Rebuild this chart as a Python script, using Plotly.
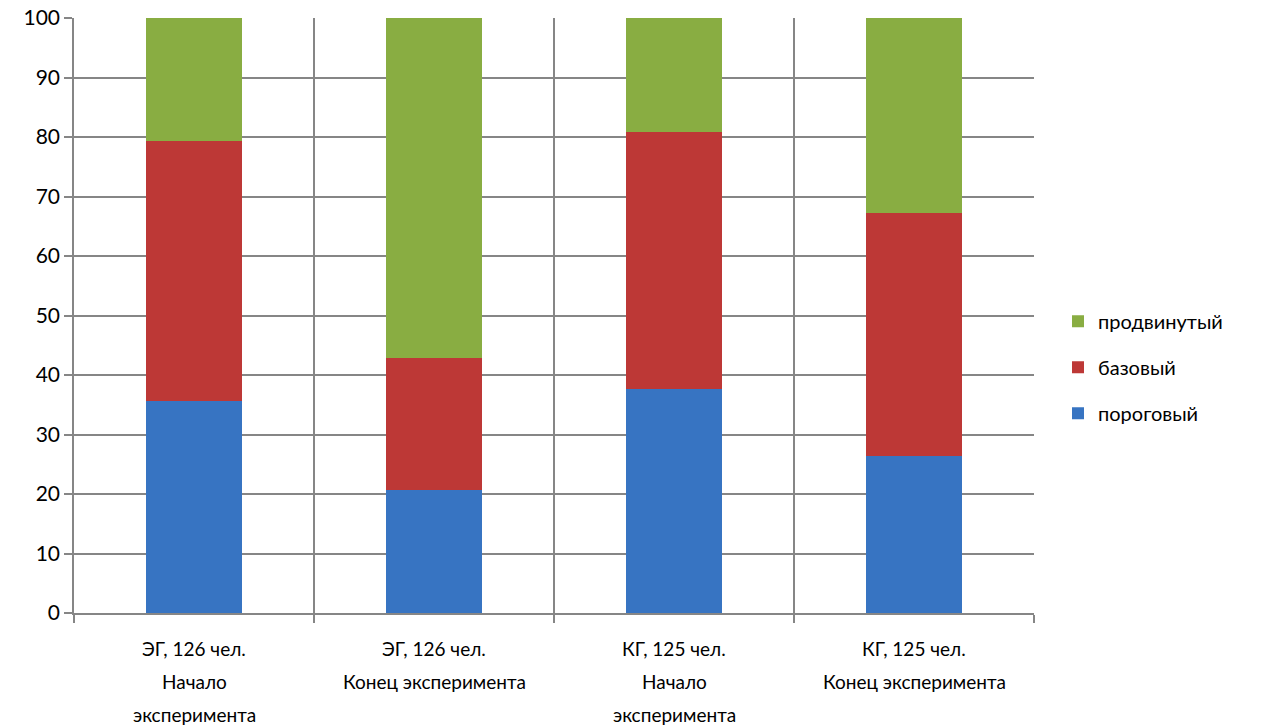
import plotly.graph_objects as go

categories = ["ЭГ, 126 чел. Начало эксперимента", "ЭГ, 126 чел. Конец эксперимента",
              "КГ, 125 чел. Начало эксперимента", "КГ, 125 чел. Конец эксперимента"]
label_lines = [
    ["ЭГ, 126 чел.", "Начало", "эксперимента"],
    ["ЭГ, 126 чел.", "Конец эксперимента"],
    ["КГ, 125 чел.", "Начало", "эксперимента"],
    ["КГ, 125 чел.", "Конец эксперимента"],
]
porogovy = [35.7, 20.6, 37.6, 26.4]
bazovy = [43.7, 22.2, 43.2, 40.8]
prodvinuty = [20.6, 57.2, 19.2, 32.8]
series_names = ["пороговый", "базовый", "продвинутый"]
colors = ["#3774c2", "#bd3836", "#89ad42"]
legend_ranks = [3, 2, 1]
y_ticks = list(range(0, 101, 10))

x = list(range(len(categories)))
fig = go.Figure()
for name, vals, col, rank in zip(series_names, [porogovy, bazovy, prodvinuty], colors, legend_ranks):
    fig.add_trace(go.Bar(x=x, y=vals, name=name, marker=dict(color=col, line=dict(width=0)),
                         legendgroup=name, legendrank=rank, hoverinfo="y+name"))

font = "Lato, 'Open Sans', sans-serif"
annotations = []
for xi, lines in zip(x, label_lines):
    for j, line in enumerate(lines):
        annotations.append(dict(x=xi, y=0, xref="x", yref="paper", text=line, showarrow=False,
                                yanchor="top", yshift=-22 - 33 * j,
                                font=dict(family=font, size=19, color="#000")))

fig.update_layout(
    width=1266, height=728,
    barmode="stack", bargap=0.6,
    plot_bgcolor="white", paper_bgcolor="white",
    margin=dict(l=74, r=232, t=18, b=115, autoexpand=False),
    font=dict(family=font, size=19, color="#000"),
    legend=dict(x=1.025, y=0.413, xanchor="left", yanchor="middle",
                traceorder="grouped", tracegroupgap=17,
                font=dict(family=font, size=20, color="#000")),
    annotations=annotations,
    xaxis=dict(range=[-0.5, 3.5], tickvals=x, ticktext=[""] * len(x), showgrid=False,
               ticks="", showline=True, linecolor="#868686", linewidth=1.5,
               minor=dict(tickmode="array", tickvals=[-0.5, 0.5, 1.5, 2.5, 3.5], showgrid=True,
                          gridcolor="#868686", gridwidth=1.5, ticks="outside", ticklen=8,
                          tickcolor="#868686", tickwidth=1.5),
               zeroline=False, fixedrange=True),
    yaxis=dict(range=[0, 100], tickvals=y_ticks, showgrid=True, gridcolor="#868686", gridwidth=1.5,
               showline=True, linecolor="#868686", linewidth=1.5, ticks="outside", ticklen=8,
               tickcolor="#868686", tickwidth=1.5, zeroline=False,
               tickfont=dict(family=font, size=21, color="#000"), fixedrange=True),
)
fig.write_html("out.html", config={"displayModeBar": False},
               post_script="document.body.style.margin='0';document.body.style.overflow='hidden';")
